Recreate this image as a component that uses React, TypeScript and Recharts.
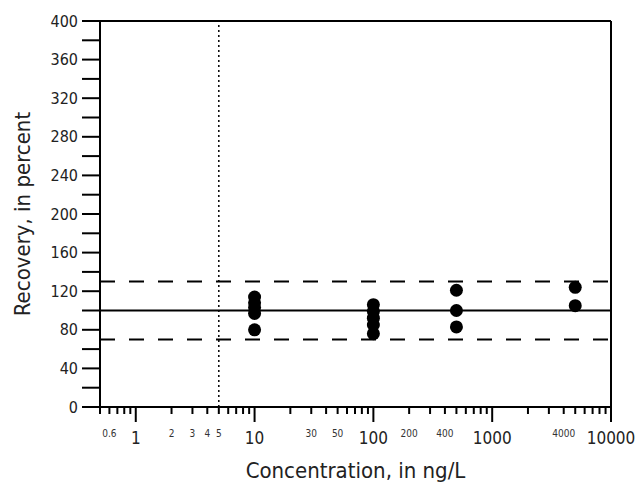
import {
  ScatterChart,
  Scatter,
  XAxis,
  YAxis,
  ReferenceLine,
  Label,
} from "recharts";

// recovery (percent) for each spike concentration (ng/L)
const recovery10 = [114, 108, 103, 97, 80];
const recovery100 = [106, 99, 92, 85, 76];
const recovery500 = [121, 100, 83];
const recovery5000 = [124, 105];

const majorTicks = [1, 10, 100, 1000, 10000];
const minorTicks = [
  0.5, 0.6, 0.7, 0.8, 0.9,
  2, 3, 4, 5, 6, 7, 8, 9,
  20, 30, 40, 50, 60, 70, 80, 90,
  200, 300, 400, 500, 600, 700, 800, 900,
  2000, 3000, 4000, 5000, 6000, 7000, 8000, 9000,
];
const minorLabels = [0.6, 2, 3, 4, 5, 30, 50, 200, 400, 4000];

const yTicks = [0, 20, 40, 60, 80, 100, 120, 140, 160, 180, 200, 220, 240, 260, 280, 300, 320, 340, 360, 380, 400];
const yLabelStep = 40;

const reportingLevel = 5;
const targetRecovery = 100;
const upperLimit = 130;
const lowerLimit = 70;

const FONT = "'DejaVu Sans Condensed', 'Liberation Sans Narrow', sans-serif";

const points = [
  ...recovery10.map((y) => ({ x: 10, y })),
  ...recovery100.map((y) => ({ x: 100, y })),
  ...recovery500.map((y) => ({ x: 500, y })),
  ...recovery5000.map((y) => ({ x: 5000, y })),
];

const allXTicks = [...minorTicks, ...majorTicks].sort((a, b) => a - b);

function XTick(props: any) {
  const { x, y, payload } = props;
  const v = payload.value;
  const major = majorTicks.includes(v);
  const showMinor = minorLabels.includes(v);
  return (
    <g>
      <line x1={x} x2={x} y1={y} y2={y + (major ? 15 : 7)} stroke="#000" strokeWidth={2} />
      {major && (
        <text x={x} y={y + 37} textAnchor="middle" fontSize={17} fontFamily={FONT} fill="#222">
          {v}
        </text>
      )}
      {showMinor && (
        <text x={x} y={y + 30} textAnchor="middle" fontSize={10} fontFamily={FONT} fill="#333">
          {v}
        </text>
      )}
    </g>
  );
}

function YTick(props: any) {
  const { x, y, payload } = props;
  const v = payload.value;
  return (
    <g>
      <line x1={x - 18} x2={x} y1={y} y2={y} stroke="#000" strokeWidth={2} />
      {v % yLabelStep === 0 && (
        <text x={x - 22} y={y} dy="0.35em" textAnchor="end" fontSize={16} fontFamily={FONT} fill="#222">
          {v}
        </text>
      )}
    </g>
  );
}

const Dot = (props: any) => <circle cx={props.cx} cy={props.cy} r={6.5} fill="#000" />;

export default function App() {
  return (
    <div style={{ width: 637, height: 484, background: "#fff" }}>
      <style>{"body{margin:0}"}</style>
      <ScatterChart width={637} height={484} margin={{ top: 21, right: 26, left: 0, bottom: 0 }}>
        <XAxis
          dataKey="x"
          type="number"
          scale="log"
          domain={[0.5, 10000]}
          ticks={allXTicks}
          interval={0}
          allowDataOverflow
          height={77}
          tickSize={0}
          tickMargin={0}
          tickLine={false}
          axisLine={{ stroke: "#000", strokeWidth: 2 }}
          tick={<XTick />}
        >
          <Label
            value="Concentration, in ng/L"
            position="insideBottom"
            offset={6}
            style={{ fontSize: 22, fontFamily: FONT, fill: "#222" }}
          />
        </XAxis>
        <YAxis
          dataKey="y"
          type="number"
          domain={[0, 400]}
          ticks={yTicks}
          interval={0}
          width={100}
          tickSize={0}
          tickMargin={0}
          tickLine={false}
          axisLine={{ stroke: "#000", strokeWidth: 2 }}
          tick={<YTick />}
        >
          <Label
            value="Recovery, in percent"
            angle={-90}
            position="insideLeft"
            offset={22}
            style={{ fontSize: 22, fontFamily: FONT, fill: "#222", textAnchor: "middle" }}
          />
        </YAxis>
        <ReferenceLine y={400} stroke="#000" strokeWidth={2} />
        <ReferenceLine x={10000} stroke="#000" strokeWidth={2} />
        <ReferenceLine x={reportingLevel} stroke="#000" strokeWidth={1.5} strokeDasharray="2 3" />
        <ReferenceLine y={upperLimit} stroke="#000" strokeWidth={2} strokeDasharray="15 14" />
        <ReferenceLine y={lowerLimit} stroke="#000" strokeWidth={2} strokeDasharray="15 14" />
        <ReferenceLine y={targetRecovery} stroke="#000" strokeWidth={2} />
        <Scatter data={points} shape={<Dot />} isAnimationActive={false} />
      </ScatterChart>
    </div>
  );
}
